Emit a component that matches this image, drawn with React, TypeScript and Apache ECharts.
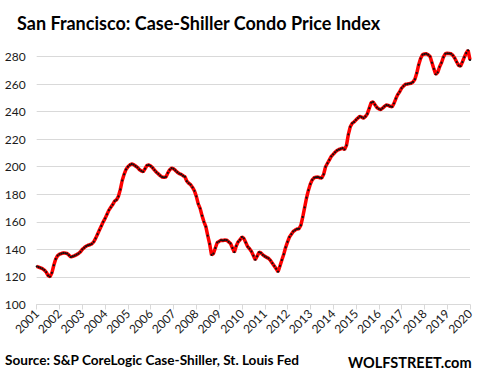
import React, { useEffect, useRef } from "react";
import * as echarts from "echarts";

const TITLE = "San Francisco: Case-Shiller Condo Price Index";
const SOURCE = "Source: S&P CoreLogic Case-Shiller, St. Louis Fed";
const BRAND = "WOLFSTREET.com";

const years = [2001, 2002, 2003, 2004, 2005, 2006, 2007, 2008, 2009, 2010, 2011, 2012, 2013, 2014, 2015, 2016, 2017, 2018, 2019, 2020];

const v2001 = [127.7, 127.2, 126.6, 126.0, 125.0, 123.5, 121.0, 120.2, 123.0, 128.5, 133.0, 135.5];
const v2002 = [136.5, 137.0, 137.4, 137.3, 137.0, 135.8, 134.5, 135.0, 135.5, 136.2, 137.0, 138.2];
const v2003 = [140.0, 141.2, 142.3, 143.0, 143.4, 144.0, 145.5, 148.0, 151.0, 154.0, 157.0, 160.0];
const v2004 = [162.5, 165.5, 168.5, 170.5, 172.5, 175.0, 176.0, 178.5, 183.5, 190.0, 194.5, 198.0];
const v2005 = [200.0, 201.3, 202.0, 201.5, 200.5, 199.5, 198.0, 197.0, 196.4, 198.5, 201.0, 201.3];
const v2006 = [200.5, 199.2, 197.5, 196.0, 194.8, 193.5, 192.5, 192.3, 192.6, 195.5, 197.8, 199.0];
const v2007 = [198.5, 197.3, 196.0, 195.0, 194.5, 193.5, 192.7, 189.5, 188.0, 187.0, 185.0, 182.5];
const v2008 = [178.5, 173.0, 169.8, 164.5, 160.0, 156.5, 150.0, 144.0, 136.0, 137.0, 141.0, 145.0];
const v2009 = [145.8, 146.7, 146.5, 146.8, 146.7, 145.5, 144.3, 141.0, 138.0, 142.5, 145.5, 147.0];
const v2010 = [149.0, 148.0, 145.0, 142.0, 140.5, 138.5, 135.5, 132.5, 135.0, 138.0, 137.5, 136.0];
const v2011 = [135.0, 134.2, 133.5, 132.0, 130.0, 128.0, 126.0, 123.8, 128.0, 132.3, 136.5, 141.5];
const v2012 = [145.5, 149.0, 151.0, 153.0, 154.0, 154.8, 155.0, 157.5, 163.5, 170.5, 177.5, 183.0];
const v2013 = [187.5, 190.5, 192.0, 192.4, 192.5, 192.0, 191.8, 194.5, 200.0, 202.5, 205.0, 207.5];
const v2014 = [209.0, 210.5, 211.8, 212.5, 213.0, 213.5, 212.5, 215.5, 223.5, 229.0, 231.5, 232.5];
const v2015 = [234.0, 235.3, 236.5, 236.0, 235.3, 236.5, 238.5, 242.5, 246.5, 247.0, 245.0, 243.0];
const v2016 = [242.0, 241.5, 242.5, 243.8, 244.8, 244.5, 243.8, 243.5, 246.0, 249.5, 252.5, 254.5];
const v2017 = [257.0, 258.5, 259.8, 260.0, 260.3, 260.6, 261.5, 263.5, 268.0, 274.0, 278.5, 281.3];
const v2018 = [281.8, 282.0, 281.3, 280.0, 275.5, 271.0, 267.0, 268.5, 272.5, 275.5, 279.5, 282.0];
const v2019 = [282.3, 282.2, 282.0, 280.8, 278.7, 276.0, 273.5, 273.0, 276.0, 279.5, 282.5, 284.5];
const v2020 = [277.5];

const yearlyValues = [v2001, v2002, v2003, v2004, v2005, v2006, v2007, v2008, v2009, v2010, v2011, v2012, v2013, v2014, v2015, v2016, v2017, v2018, v2019, v2020];

const FONT = "Lato";

export default function App() {
  const ref = useRef<HTMLDivElement>(null);

  useEffect(() => {
    if (!ref.current) return;
    const chart = echarts.init(ref.current, undefined, { renderer: "svg" });

    const categories: string[] = [];
    const values: number[] = [];
    yearlyValues.forEach((arr, yi) => {
      arr.forEach((v, mi) => {
        categories.push(`${years[yi]}-${String(mi + 1).padStart(2, "0")}`);
        values.push(v);
      });
    });

    chart.setOption({
      animation: false,
      backgroundColor: "#ffffff",
      textStyle: { fontFamily: FONT },
      grid: { left: 36.7, right: 10, top: 56.5, bottom: 77.5, containLabel: false },
      xAxis: {
        type: "category",
        data: categories,
        boundaryGap: false,
        axisLine: { show: true, lineStyle: { color: "#d9d9d9", width: 1 } },
        axisTick: { show: true, interval: 11, length: 5, lineStyle: { color: "#d9d9d9" } },
        axisLabel: {
          interval: 11,
          rotate: 45,
          margin: 7,
          color: "#1a1a1a",
          fontSize: 12,
          fontFamily: FONT,
          formatter: (v: string) => v.slice(0, 4),
        },
        splitLine: { show: false },
      },
      yAxis: {
        type: "value",
        min: 100,
        max: 280,
        interval: 20,
        axisLine: { show: false },
        axisTick: { show: false },
        axisLabel: { color: "#1a1a1a", fontSize: 12, margin: 11, fontFamily: FONT },
        splitLine: { show: true, lineStyle: { color: "#d9d9d9", width: 1 } },
      },
      series: [
        {
          type: "line",
          data: values,
          clip: false,
          showAllSymbol: true,
          symbol: "circle",
          symbolSize: 2.2,
          itemStyle: { color: "#111111", borderWidth: 0 },
          lineStyle: { color: "#ff0000", width: 3.5 },
          z: 3,
        },
      ],
      graphic: [
        {
          type: "text",
          left: 17,
          top: 14,
          style: {
            text: TITLE,
            fill: "#000000",
            font: `bold 18px ${FONT}`,
          },
        },
        {
          type: "text",
          left: 5,
          top: 353,
          style: {
            text: SOURCE,
            fill: "#000000",
            font: `bold 13.6px ${FONT}`,
          },
        },
        {
          type: "text",
          left: 348,
          top: 355,
          style: {
            text: BRAND,
            fill: "#000000",
            font: `bold 14.5px ${FONT}`,
          },
        },
      ],
    });

    return () => chart.dispose();
  }, []);

  return <div ref={ref} style={{ width: 480, height: 382, position: "absolute", left: 0, top: 0 }} />;
}
